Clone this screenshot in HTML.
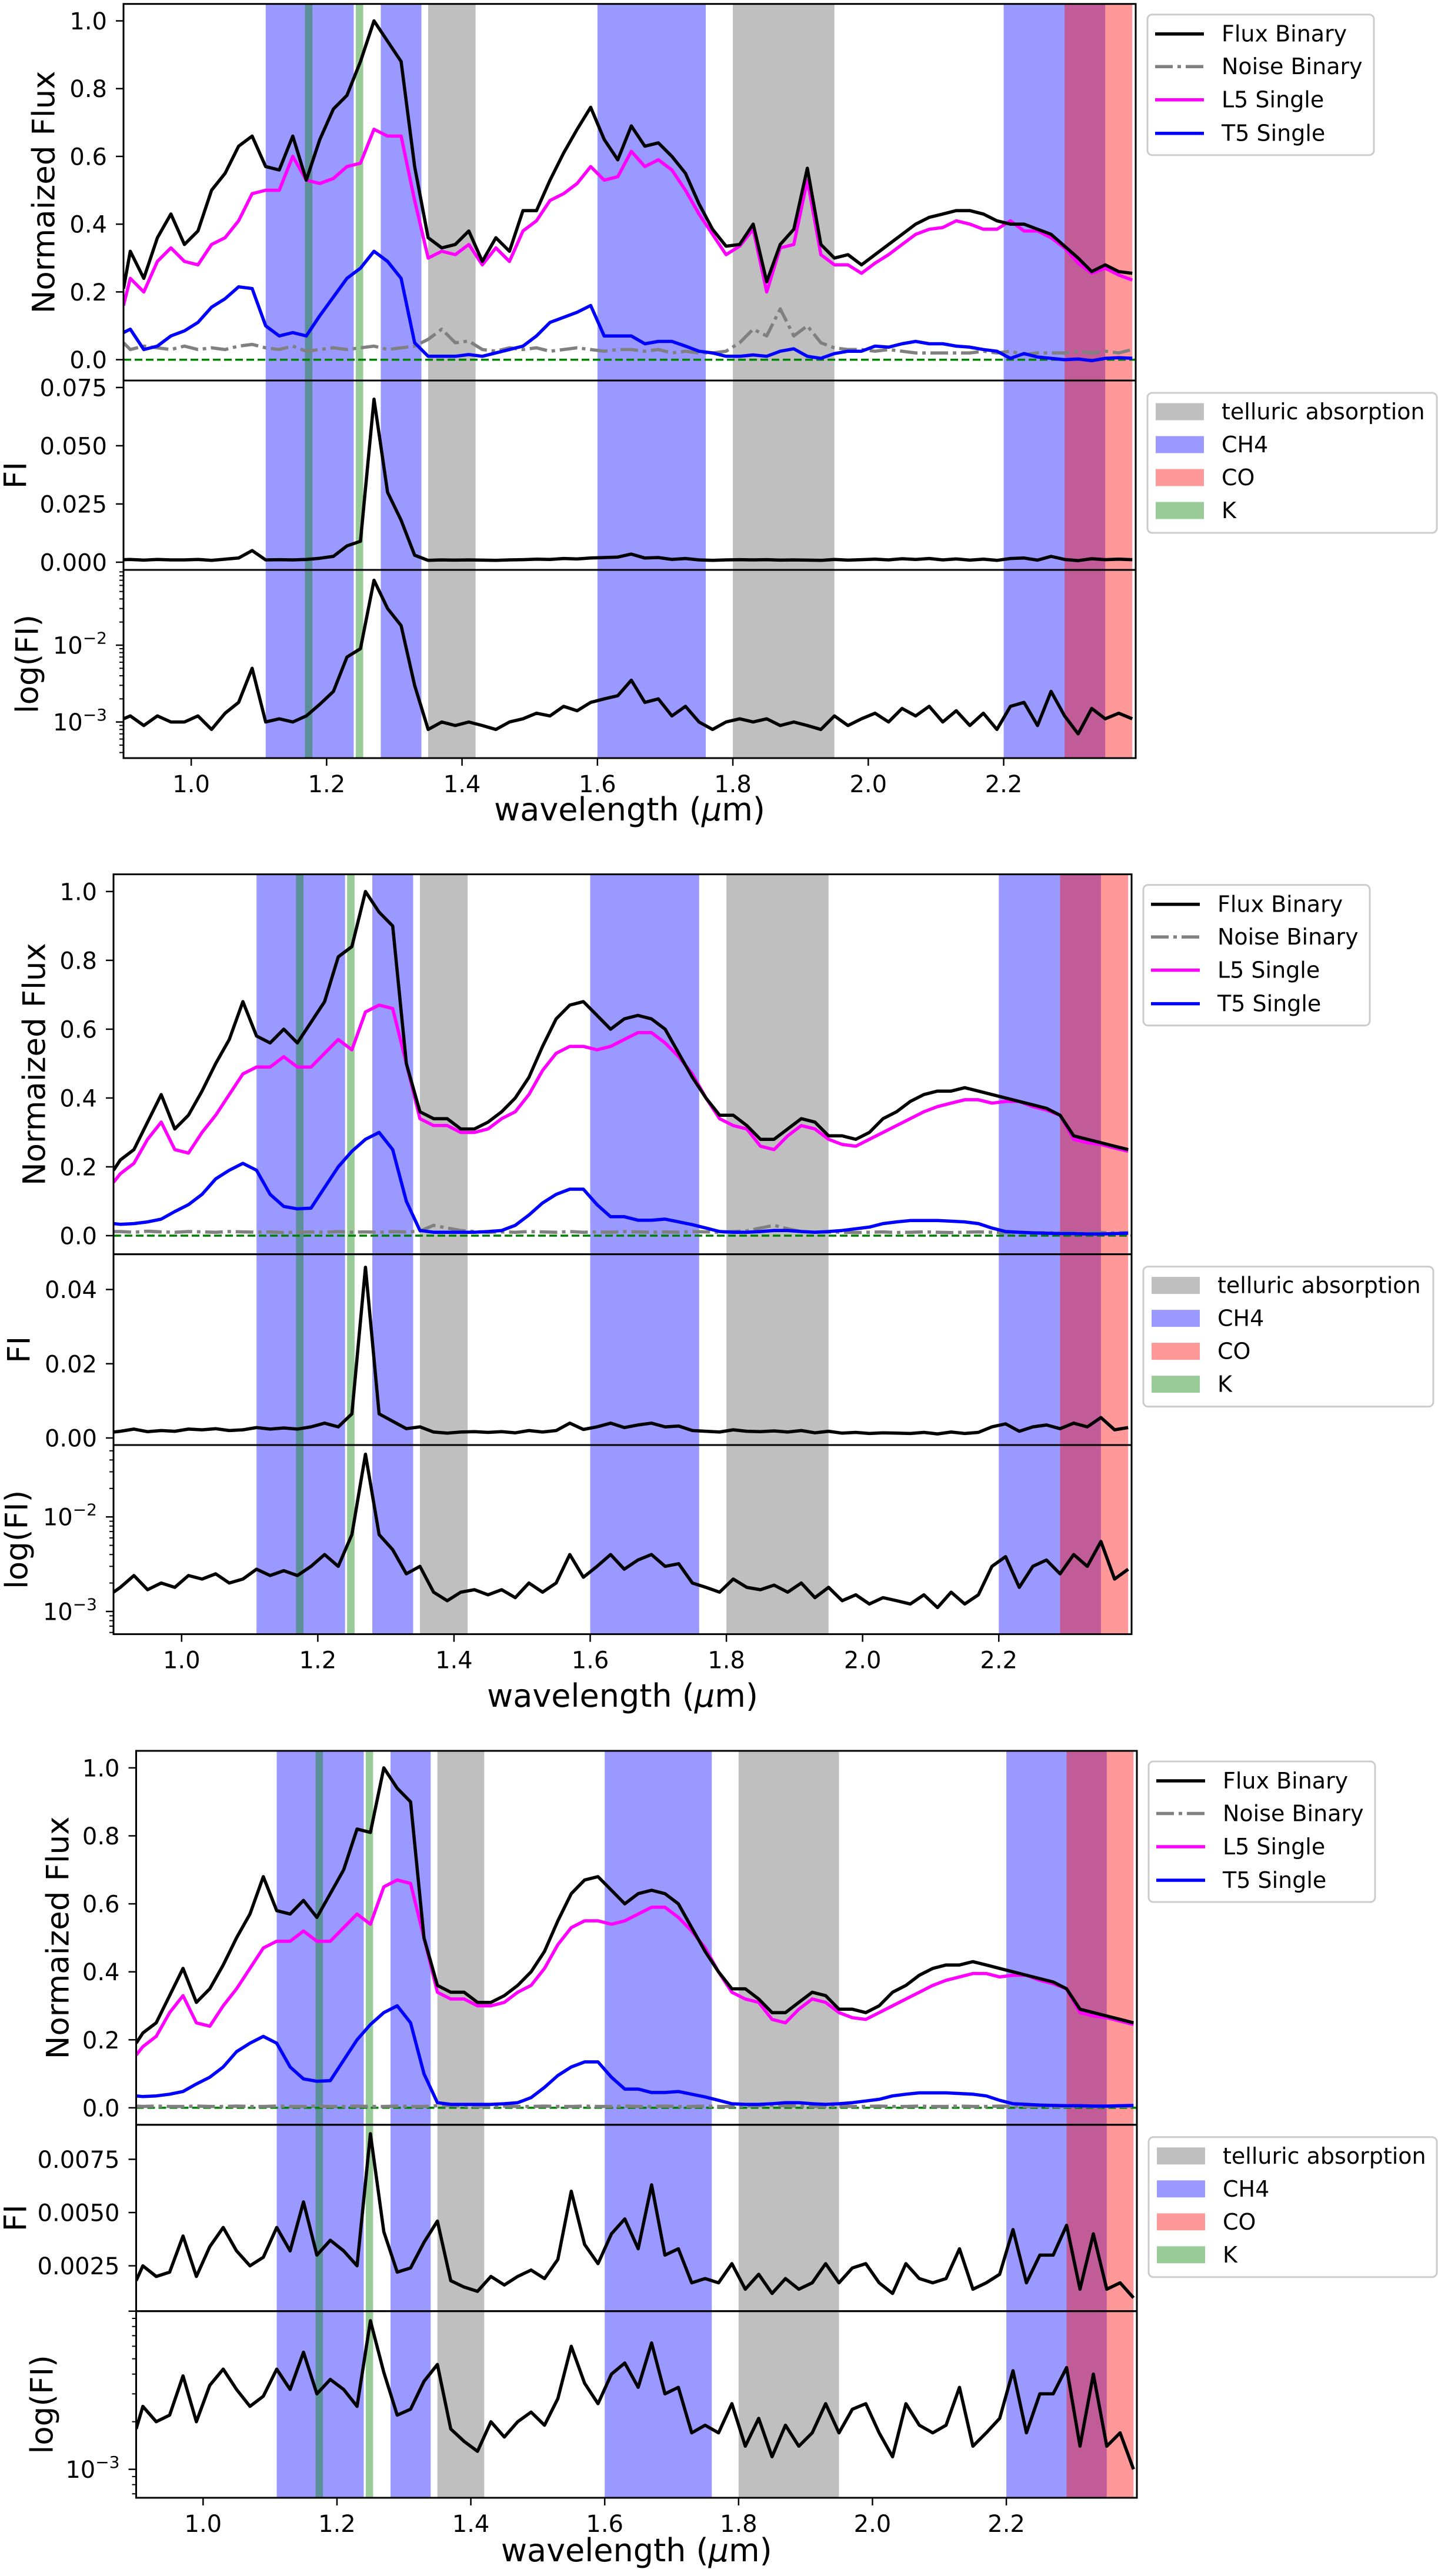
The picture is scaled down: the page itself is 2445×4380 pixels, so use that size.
<!DOCTYPE html>
<html><head><meta charset="utf-8"><title>Binary spectra flux and FI panels</title>
<style>
html,body{margin:0;padding:0;background:#fff;}
svg{display:block;font-family:"DejaVu Sans","Liberation Sans",sans-serif;}
</style></head>
<body>
<svg id="chart" width="2445" height="4380" viewBox="0 0 2445 4380" xmlns="http://www.w3.org/2000/svg"></svg>
<script>
// ---------- data ----------
const wavelength = [0.90,0.91,0.93,0.95,0.97,0.99,1.01,1.03,1.05,1.07,
1.09,1.11,1.13,1.15,1.17,1.19,1.21,1.23,1.25,1.27,
1.29,1.31,1.33,1.35,1.37,1.39,1.41,1.43,1.45,1.47,
1.49,1.51,1.53,1.55,1.57,1.59,1.61,1.63,1.65,1.67,
1.69,1.71,1.73,1.75,1.77,1.79,1.81,1.83,1.85,1.87,
1.89,1.91,1.93,1.95,1.97,1.99,2.01,2.03,2.05,2.07,
2.09,2.11,2.13,2.15,2.17,2.19,2.21,2.23,2.25,2.27,
2.29,2.31,2.33,2.35,2.37,2.39];

const fig1Binary = [.21,.32,.24,.36,.43,.34,.38,.50,.55,.63,
.66,.57,.56,.66,.53,.65,.74,.78,.88,1.00,
.94,.88,.57,.36,.33,.34,.38,.29,.36,.32,
.44,.44,.53,.61,.68,.745,.65,.59,.69,.63,
.64,.60,.55,.46,.385,.335,.34,.40,.23,.34,
.385,.565,.34,.30,.31,.28,.31,.34,.37,.40,
.42,.43,.44,.44,.43,.41,.40,.40,.385,.37,
.335,.30,.26,.28,.26,.255];
const fig1Noise = [.05,.03,.04,.035,.03,.04,.03,.035,.03,.04,
.045,.035,.03,.04,.025,.03,.035,.03,.035,.04,
.03,.035,.04,.06,.09,.05,.055,.03,.025,.035,
.03,.035,.025,.03,.035,.03,.025,.03,.03,.025,
.03,.02,.025,.02,.02,.025,.05,.09,.07,.15,
.07,.10,.05,.035,.03,.03,.025,.03,.025,.02,
.02,.02,.02,.02,.025,.02,.025,.015,.02,.02,
.02,.025,.02,.025,.02,.03];
const fig1L5 = [.16,.24,.20,.29,.33,.29,.28,.34,.36,.41,
.49,.50,.50,.60,.53,.52,.535,.57,.58,.68,
.66,.66,.47,.30,.32,.31,.34,.28,.33,.29,
.38,.41,.47,.49,.52,.57,.53,.54,.615,.57,
.59,.56,.50,.43,.37,.31,.335,.385,.20,.33,
.34,.53,.31,.28,.28,.255,.285,.31,.34,.37,
.385,.39,.41,.40,.385,.385,.41,.38,.38,.36,
.33,.285,.255,.27,.25,.235];
const fig1T5 = [.08,.09,.03,.04,.07,.085,.11,.155,.18,.215,
.21,.10,.07,.08,.07,.13,.185,.24,.27,.32,
.29,.24,.05,.01,.01,.01,.015,.01,.02,.03,
.04,.07,.11,.125,.14,.16,.07,.07,.07,.047,
.054,.054,.04,.025,.02,.01,.01,.014,.01,.025,
.032,.01,.004,.018,.025,.025,.04,.037,.047,.054,
.047,.047,.04,.037,.03,.025,.004,.018,.008,.004,
.0,.002,-.003,.004,.006,.004];
const fig1FI = [.0011,.0012,.0009,.0012,.0010,.0010,.0012,.0008,.0013,.0018,
.0050,.0010,.0011,.0010,.0012,.0017,.0025,.0070,.0090,.070,
.030,.018,.0030,.0008,.0010,.0009,.0010,.0009,.0008,.0010,
.0011,.0013,.0012,.0016,.0014,.0018,.0020,.0022,.0035,.0018,
.0020,.0012,.0016,.0010,.0008,.0010,.0011,.0010,.0011,.0009,
.0010,.0009,.0008,.0012,.0009,.0011,.0013,.0010,.0015,.0012,
.0016,.0010,.0014,.0009,.0013,.0008,.0016,.0018,.0009,.0025,
.0012,.0007,.0015,.0011,.0013,.0011];

const fig2Binary = [.19,.22,.25,.33,.41,.31,.35,.42,.50,.57,
.68,.58,.56,.60,.56,.62,.68,.81,.84,1.00,
.94,.90,.50,.36,.34,.34,.31,.31,.33,.36,
.40,.46,.55,.63,.67,.68,.64,.60,.63,.64,
.63,.60,.53,.46,.40,.35,.35,.32,.28,.28,
.31,.34,.33,.29,.29,.28,.30,.34,.36,.39,
.41,.42,.42,.43,.42,.41,.40,.39,.38,.37,
.35,.29,.28,.27,.26,.25];
const fig2Noise = [.012,.012,.010,.013,.011,.010,.012,.011,.010,.012,
.011,.010,.011,.009,.010,.011,.010,.012,.010,.011,
.010,.012,.011,.013,.030,.022,.015,.012,.010,.011,
.010,.012,.011,.010,.012,.010,.011,.010,.012,.011,
.010,.011,.010,.012,.011,.010,.012,.014,.022,.030,
.020,.012,.010,.011,.010,.009,.010,.011,.009,.010,
.011,.010,.009,.010,.011,.010,.009,.010,.008,.009,
.008,.009,.008,.009,.008,.009];
const singleL5 = [.155,.18,.21,.28,.33,.25,.24,.30,.35,.41,
.47,.49,.49,.52,.49,.49,.53,.57,.54,.65,
.67,.66,.50,.34,.32,.32,.30,.30,.31,.34,
.36,.41,.48,.53,.55,.55,.54,.55,.57,.59,
.59,.56,.52,.47,.40,.34,.32,.31,.26,.25,
.29,.32,.31,.28,.265,.26,.28,.30,.32,.34,
.36,.375,.385,.395,.395,.385,.39,.39,.375,.365,
.35,.28,.27,.265,.255,.245];
const singleT5 = [.035,.033,.035,.04,.048,.07,.09,.12,.165,.19,
.21,.19,.12,.085,.078,.08,.14,.20,.245,.28,
.30,.25,.10,.015,.01,.01,.01,.01,.012,.015,
.03,.06,.095,.12,.135,.135,.09,.055,.055,.045,
.045,.048,.04,.032,.022,.012,.01,.01,.012,.015,
.015,.012,.01,.012,.015,.02,.025,.035,.04,.044,
.044,.044,.042,.04,.035,.022,.012,.01,.008,.007,
.006,.006,.005,.005,.006,.007];
const fig2FI = [.0016,.0018,.0024,.0017,.0020,.0018,.0024,.0022,.0025,.0020,
.0022,.0028,.0024,.0027,.0024,.0030,.0040,.0030,.0065,.046,
.0065,.0045,.0025,.0030,.0016,.0013,.0016,.0017,.0015,.0017,
.0014,.0020,.0016,.0020,.0040,.0023,.0030,.0040,.0028,.0035,
.0040,.0030,.0032,.0020,.0018,.0016,.0022,.0018,.0017,.0019,
.0016,.0020,.0014,.0018,.0013,.0015,.0012,.0014,.0013,.0012,
.0015,.0011,.0016,.0012,.0015,.0030,.0038,.0018,.0030,.0035,
.0025,.0040,.0030,.0055,.0022,.0028];

const fig3Binary = [.19,.22,.25,.33,.41,.31,.35,.42,.50,.57,
.68,.58,.57,.61,.56,.63,.70,.82,.81,1.00,
.94,.90,.50,.36,.34,.34,.31,.31,.33,.36,
.40,.46,.55,.63,.67,.68,.64,.60,.63,.64,
.63,.60,.53,.46,.40,.35,.35,.32,.28,.28,
.31,.34,.33,.29,.29,.28,.30,.34,.36,.39,
.41,.42,.42,.43,.42,.41,.40,.39,.38,.37,
.35,.29,.28,.27,.26,.25];
const fig3Noise = [.005,.004,.005,.004,.004,.005,.004,.004,.005,.004,
.004,.005,.004,.004,.005,.004,.004,.005,.004,.004,
.005,.004,.004,.006,.007,.005,.004,.004,.005,.004,
.004,.005,.004,.004,.005,.004,.004,.005,.004,.004,
.005,.004,.004,.005,.004,.004,.005,.006,.007,.006,
.005,.004,.004,.005,.004,.004,.005,.004,.004,.005,
.004,.004,.005,.004,.004,.005,.004,.004,.005,.004,
.004,.005,.004,.004,.005,.004];
const fig3FI = [.0018,.0025,.0020,.0022,.0039,.0020,.0034,.0043,.0032,.0025,
.0029,.0043,.0032,.0055,.0030,.0037,.0032,.0025,.0087,.0041,
.0022,.0024,.0036,.0046,.0018,.0015,.0013,.0020,.0016,.0020,
.0023,.0019,.0028,.0060,.0035,.0026,.0040,.0047,.0033,.0063,
.0030,.0033,.0017,.0019,.0017,.0026,.0014,.0021,.0012,.0019,
.0014,.0017,.0026,.0017,.0024,.0026,.0017,.0012,.0026,.0019,
.0017,.0019,.0033,.0014,.0017,.0021,.0042,.0017,.0030,.0030,
.0044,.0014,.0040,.0014,.0017,.0010];

const xTicks = [1.0,1.2,1.4,1.6,1.8,2.0,2.2];
const xTickLabels = ['1.0','1.2','1.4','1.6','1.8','2.0','2.2'];
const fluxTicks = [0,0.2,0.4,0.6,0.8,1.0];
const fluxTickLabels = ['0.0','0.2','0.4','0.6','0.8','1.0'];
const fi1Ticks = [0,0.025,0.05,0.075];
const fi1TickLabels = ['0.000','0.025','0.050','0.075'];
const fi2Ticks = [0,0.02,0.04];
const fi2TickLabels = ['0.00','0.02','0.04'];
const fi3Ticks = [0.0025,0.005,0.0075];
const fi3TickLabels = ['0.0025','0.0050','0.0075'];

const ch4Bands = [[1.11,1.24],[1.28,1.34],[1.60,1.76],[2.20,2.35]];
const telluricBands = [[1.35,1.42],[1.80,1.95]];
const coBands = [[2.29,2.39]];
const kBands = [[1.168,1.179],[1.243,1.254]];

// ---------- layout ----------
const XMIN = 0.9, XMAX = 2.395;
const LW = 5.5;
const figs = [
 {id:'top', left:210, right:1931, flux:[6.7,647], fi:[647,969], lg:[969,1289],
  fluxR:[-0.0615,1.05], fiR:[-0.0033,0.078], logR:[-3.47,-1.02],
  fiT:fi1Ticks, fiL:fi1TickLabels, logT:[-3,-2], ylab:[75,27,47], xlabY:1395,
  binary:fig1Binary, noise:fig1Noise, l5:fig1L5, t5:fig1T5, fidata:fig1FI},
 {id:'middle', left:193, right:1924, flux:[1486.6,2132.6], fi:[2132.6,2457], lg:[2457,2778.6],
  fluxR:[-0.054,1.05], fiR:[-0.0019,0.0495], logR:[-3.24,-1.24],
  fiT:fi2Ticks, fiL:fi2TickLabels, logT:[-3,-2], ylab:[59,33,29], xlabY:2902,
  binary:fig2Binary, noise:fig2Noise, l5:singleL5, t5:singleT5, fidata:fig2FI},
 {id:'bottom', left:231.5, right:1933, flux:[2977,3612.8], fi:[3612.8,3929.7], lg:[3929.7,4247],
  fluxR:[-0.05,1.05], fiR:[0.00037,0.00912], logR:[-3.18,-2.0],
  fiT:fi3Ticks, fiL:fi3TickLabels, logT:[-3], ylab:[99,27,72], xlabY:4355,
  binary:fig3Binary, noise:fig3Noise, l5:singleL5, t5:singleT5, fidata:fig3FI}
];

const NS = 'http://www.w3.org/2000/svg';
const svg = document.getElementById('chart');
function mk(tag, attrs, name, parent){
  const el = document.createElementNS(NS, tag);
  for (const k in attrs) el.setAttribute(k, attrs[k]);
  
  
  (parent || svg).appendChild(el);
  return el;
}
const defs = mk('defs', {}, 'definitions');

figs.forEach((f, fi) => {
  const g = mk('g', {}, 'figure-' + f.id);
  const xs = v => f.left + (v - XMIN) / (XMAX - XMIN) * (f.right - f.left);
  const linY = (r, range) => v => r[1] - (v - range[0]) / (range[1] - range[0]) * (r[1] - r[0]);
  const logY = (r, range) => v => r[1] - (Math.log10(v) - range[0]) / (range[1] - range[0]) * (r[1] - r[0]);
  const panels = [
    {key:'flux', r:f.flux, ys:linY(f.flux, f.fluxR)},
    {key:'fi', r:f.fi, ys:linY(f.fi, f.fiR)},
    {key:'logfi', r:f.lg, ys:logY(f.lg, f.logR)}
  ];
  panels.forEach(p => {
    const cid = 'clip-' + f.id + '-' + p.key;
    const cp = mk('clipPath', {id:cid}, 'clip-' + p.key, defs);
    mk('rect', {x:f.left, y:p.r[0], width:f.right - f.left, height:p.r[1] - p.r[0]}, 'clip-rect', cp);
    const pg = mk('g', {'clip-path':'url(#' + cid + ')'}, 'panel-' + p.key, g);
    const band = (list, color, op, nm) => list.forEach(b => {
      mk('rect', {x:xs(b[0]), y:p.r[0], width:xs(b[1]) - xs(b[0]), height:p.r[1] - p.r[0], fill:color, 'fill-opacity':op}, nm, pg);
    });
    band(telluricBands, '#808080', 0.5, 'telluric-band');
    band(ch4Bands, '#0000ff', 0.4, 'ch4-band');
    band(coBands, '#ff0000', 0.4, 'co-band');
    band(kBands, '#008000', 0.4, 'k-band');
    const path = (arr, stroke, extra, nm) => {
      let d = '';
      arr.forEach((v, i) => { d += (i ? 'L' : 'M') + xs(wavelength[i]).toFixed(1) + ',' + p.ys(v).toFixed(1); });
      const a = {d:d, fill:'none', stroke:stroke, 'stroke-width':LW, 'stroke-linejoin':'round'};
      for (const k in extra) a[k] = extra[k];
      mk('path', a, nm, pg);
    };
    if (p.key === 'flux') {
      mk('line', {x1:f.left, x2:f.right, y1:p.ys(0), y2:p.ys(0), stroke:'#008000', 'stroke-width':3.5, 'stroke-dasharray':'13,6'}, 'zero-line', pg);
      path(f.noise, '#808080', {'stroke-dasharray':'30,8,6,8'}, 'noise-binary-line');
      path(f.t5, '#0000ff', {}, 't5-single-line');
      path(f.l5, '#ff00ff', {}, 'l5-single-line');
      path(f.binary, '#000000', {}, 'flux-binary-line');
    } else {
      path(f.fidata, '#000000', {}, p.key === 'fi' ? 'fi-line' : 'log-fi-line');
    }
    mk('rect', {x:f.left, y:p.r[0], width:f.right - f.left, height:p.r[1] - p.r[0], fill:'none', stroke:'#000', 'stroke-width':3}, 'panel-frame', g);
    if (p.key === 'flux' || p.key === 'fi') {
      const T = p.key === 'flux' ? fluxTicks : f.fiT;
      const L = p.key === 'flux' ? fluxTickLabels : f.fiL;
      T.forEach((t, i) => {
        const y = p.ys(t);
        mk('line', {x1:f.left - 13, x2:f.left, y1:y, y2:y, stroke:'#000', 'stroke-width':2.5}, 'y-tick', g);
        const tx = mk('text', {x:f.left - 28, y:y + 14.5, 'font-size':40, 'text-anchor':'end', fill:'#000'}, 'y-tick-label', g);
        tx.textContent = L[i];
      });
    } else {
      for (let dec = Math.floor(f.logR[0]); dec <= Math.ceil(f.logR[1]); dec++) {
        for (let m = 1; m < 10; m++) {
          const lv = dec + Math.log10(m);
          if (lv < f.logR[0] || lv > f.logR[1]) continue;
          const y = p.ys(Math.pow(10, lv));
          mk('line', {x1:f.left - (m === 1 ? 13 : 7), x2:f.left, y1:y, y2:y, stroke:'#000', 'stroke-width':m === 1 ? 2.5 : 2}, m === 1 ? 'y-tick' : 'y-minor-tick', g);
        }
      }
      f.logT.forEach(t => {
        const y = p.ys(Math.pow(10, t));
        const tx = mk('text', {x:f.left - 28, y:y + 14.5, 'font-size':40, 'text-anchor':'end', fill:'#000'}, 'y-tick-label', g);
        tx.appendChild(document.createTextNode('10'));
        const sp = document.createElementNS(NS, 'tspan');
        sp.setAttribute('dy', '-17');
        sp.setAttribute('font-size', '28');
        sp.textContent = '\u2212' + Math.abs(t);
        tx.appendChild(sp);
      });
    }
  });
  xTicks.forEach((t, i) => {
    const x = xs(t);
    mk('line', {x1:x, x2:x, y1:f.lg[1], y2:f.lg[1] + 13, stroke:'#000', 'stroke-width':2.5}, 'x-tick', g);
    const tx = mk('text', {x:x, y:f.lg[1] + 58, 'font-size':40, 'text-anchor':'middle', fill:'#000'}, 'x-tick-label', g);
    tx.textContent = xTickLabels[i];
  });
  const xl = mk('text', {x:(f.left + f.right) / 2, y:f.xlabY, 'font-size':54, 'text-anchor':'middle', fill:'#000'}, 'x-axis-title', g);
  xl.appendChild(document.createTextNode('wavelength ('));
  const mu = document.createElementNS(NS, 'tspan');
  mu.setAttribute('font-style', 'italic');
  mu.textContent = '\u03bc';
  xl.appendChild(mu);
  xl.appendChild(document.createTextNode('m)'));
  const ylabels = [['Normaized Flux', f.flux], ['FI', f.fi], ['log(FI)', f.lg]];
  ylabels.forEach((yl, i) => {
    const cy = (yl[1][0] + yl[1][1]) / 2, cx = f.ylab[i];
    const t = mk('text', {x:cx, y:cy, 'font-size':53, 'text-anchor':'middle', 'dominant-baseline':'central', transform:'rotate(-90 ' + cx + ' ' + cy + ')', fill:'#000'}, i === 0 ? 'flux-axis-title' : (i === 1 ? 'fi-axis-title' : 'log-fi-axis-title'), g);
    t.textContent = yl[0];
  });
  const lx = f.right + 20;
  const l1 = mk('g', {}, 'line-legend', g);
  mk('rect', {x:lx, y:f.flux[0] + 18, width:385, height:239, rx:8, fill:'#fff', 'fill-opacity':0.8, stroke:'#cccccc', 'stroke-width':3}, 'legend-box', l1);
  const items1 = [['Flux Binary', '#000', null], ['Noise Binary', '#808080', '30,8,6,8'], ['L5 Single', '#ff00ff', null], ['T5 Single', '#0000ff', null]];
  const rows1 = [51, 106.5, 163, 220];
  items1.forEach((it, i) => {
    const y = f.flux[0] + rows1[i];
    const a = {x1:lx + 13, x2:lx + 96, y1:y, y2:y, stroke:it[1], 'stroke-width':LW};
    if (it[2]) a['stroke-dasharray'] = it[2];
    mk('line', a, 'legend-swatch', l1);
    const t = mk('text', {x:lx + 126, y:y, 'font-size':38, 'dominant-baseline':'central', fill:'#000'}, 'legend-entry', l1);
    t.textContent = it[0];
  });
  const l2 = mk('g', {}, 'band-legend', g);
  const w2 = Math.min(493, 2443 - lx);
  mk('rect', {x:lx, y:f.fi[0] + 21, width:w2, height:238, rx:8, fill:'#fff', 'fill-opacity':0.8, stroke:'#cccccc', 'stroke-width':3}, 'legend-box', l2);
  const items2 = [['telluric absorption', '#808080', 0.5], ['CH4', '#0000ff', 0.4], ['CO', '#ff0000', 0.4], ['K', '#008000', 0.4]];
  const rows2 = [53, 109, 165, 221];
  items2.forEach((it, i) => {
    const y = f.fi[0] + rows2[i];
    mk('rect', {x:lx + 14, y:y - 14.5, width:82, height:29, fill:it[1], 'fill-opacity':it[2]}, 'legend-swatch', l2);
    const t = mk('text', {x:lx + 126, y:y, 'font-size':38, 'dominant-baseline':'central', fill:'#000'}, 'legend-entry', l2);
    t.textContent = it[0];
  });
});
</script>
</body></html>
